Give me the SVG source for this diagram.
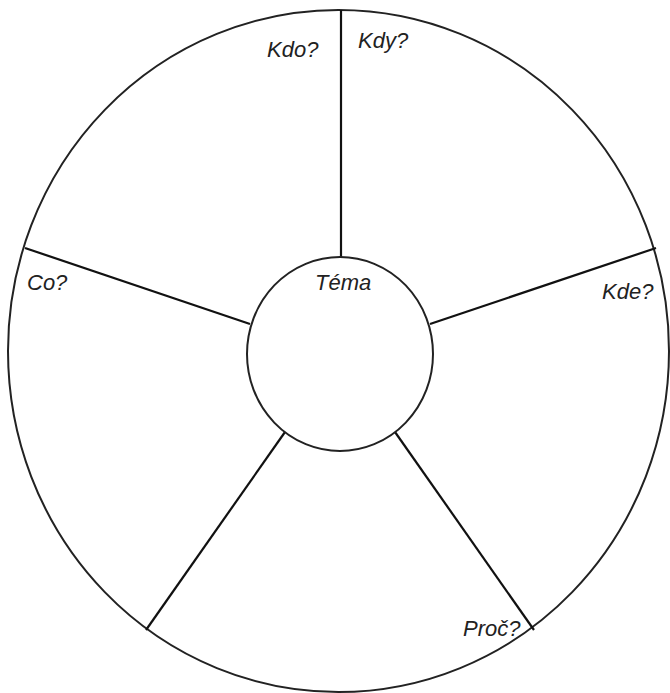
<svg xmlns="http://www.w3.org/2000/svg" width="670" height="693" viewBox="0 0 670 693">
<style>
.ring{fill:none;stroke:#222;stroke-width:2}
.hub{fill:#fff;stroke:#222;stroke-width:2}
.spoke{stroke:#111;stroke-width:2.2;fill:none}
.lbl{font-family:"Liberation Sans",Arial,sans-serif;font-style:italic;font-size:22px;fill:#222}
</style>
<rect width="670" height="693" fill="#fff"/>
<g id="outer"><ellipse class="ring" cx="338.5" cy="351" rx="330.5" ry="341"/></g>
<g id="connectors">
<line class="spoke" x1="341" y1="10" x2="341" y2="257"/>
<line class="spoke" x1="25" y1="248" x2="250" y2="324"/>
<line class="spoke" x1="656" y1="248" x2="430" y2="324"/>
<line class="spoke" x1="146" y1="630" x2="285" y2="432"/>
<line class="spoke" x1="534" y1="630" x2="395" y2="432"/>
</g>
<g id="tema"><ellipse class="hub" cx="340" cy="354" rx="93" ry="97"/><text class="lbl" x="315" y="290">Téma</text></g>
<g id="kdo"><text class="lbl" x="267" y="57">Kdo?</text></g>
<g id="kdy"><text class="lbl" x="358" y="48">Kdy?</text></g>
<g id="co"><text class="lbl" x="27" y="290">Co?</text></g>
<g id="kde"><text class="lbl" x="602" y="299">Kde?</text></g>
<g id="proc"><text class="lbl" x="463" y="636">Proč?</text></g>
</svg>
